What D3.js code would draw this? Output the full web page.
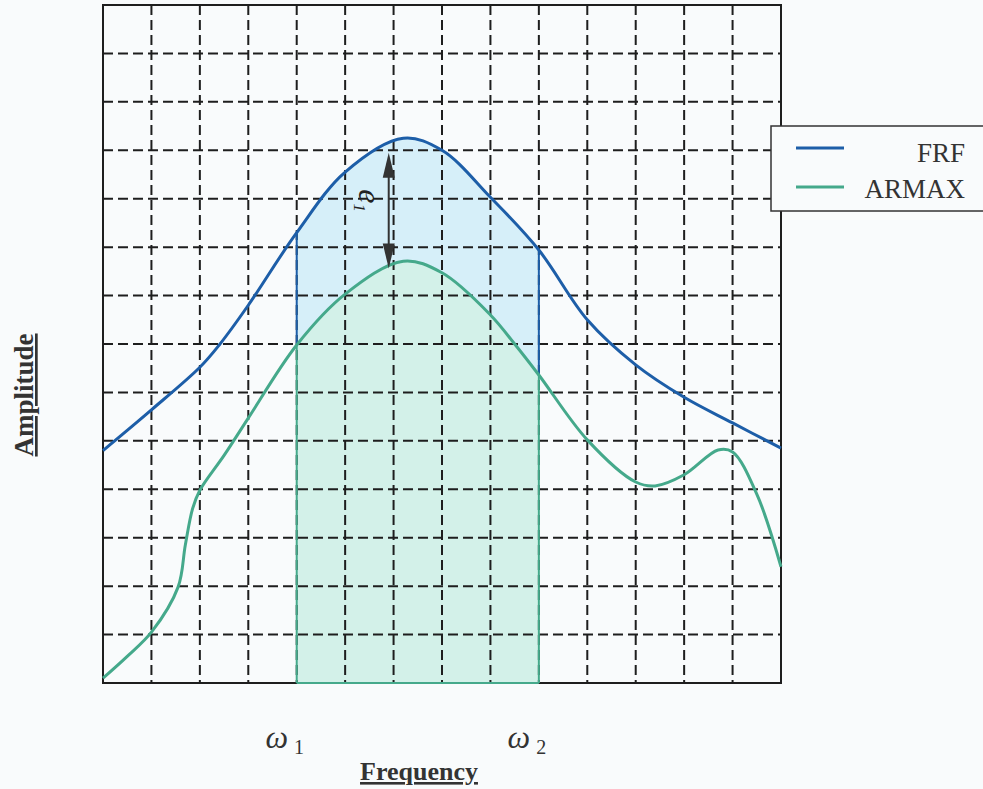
<!DOCTYPE html>
<html>
<head>
<meta charset="utf-8">
<script src="https://cdn.jsdelivr.net/npm/d3@7"></script>
<style>
  body { margin: 0; background: #f9fbfc; }
  text { font-family: "Liberation Serif", "DejaVu Serif", serif; }
</style>
</head>
<body>
<svg id="chart"></svg>
<script>
// FRF vs ARMAX amplitude sketch

const GRID_TICKS = d3.range(0, 15);
const BAND = [4, 9];               // omega 1, omega 2
const BAND_LABELS = ["1", "2"];
const E_AT = 5.9;                  // where the e1 arrow sits

const frfX = [0, 1, 2, 2.4, 3, 4, 5, 6.2, 7, 8, 9, 10, 11, 12, 13, 14];
const frfY = [4.8, 5.64, 6.52, 6.98, 7.8, 9.3, 10.55, 11.25, 11.0, 10.03, 8.94, 7.5, 6.57, 5.9, 5.37, 4.85];

const armaxX = [0, 0.5, 1, 1.55, 1.7, 1.85, 2, 2.5, 3, 4, 5, 6.2, 7, 8, 8.5, 9, 10, 11, 11.4, 12, 12.7, 13, 13.5, 14];
const armaxY = [0.1, 0.55, 1.05, 1.98, 2.85, 3.6, 3.98, 4.7, 5.47, 6.98, 8.03, 8.71, 8.47, 7.6, 7.0, 6.36, 5.02, 4.15, 4.07, 4.3, 4.81, 4.77, 3.9, 2.4];

const SERIES = ["FRF", "ARMAX"];
const COLORS = ["#1d5ea8", "#45a98b"];
const FILLS = ["#d6eff9", "#d3f1e9"];

const WIDTH = 983;
const HEIGHT = 789;
const PLOT = { left: 103, right: 781, top: 5, bottom: 683 };

const svg = d3.select('#chart')
  .attr('width', WIDTH)
  .attr('height', HEIGHT);

const xScale = d3.scaleLinear().domain([0, 14]).range([PLOT.left, PLOT.right]);
const yScale = d3.scaleLinear().domain([0, 14]).range([PLOT.bottom, PLOT.top]);

const frf = frfX.map((x, i) => [x, frfY[i]]);
const armax = armaxX.map((x, i) => [x, armaxY[i]]);
const frfAt = d3.scaleLinear().domain(frfX).range(frfY);
const armaxAt = d3.scaleLinear().domain(armaxX).range(armaxY);

const curve = d3.curveCatmullRom.alpha(0.5);

const line = d3.line()
  .x(d => xScale(d[0]))
  .y(d => yScale(d[1]))
  .curve(curve);

const area = d3.area()
  .x(d => xScale(d[0]))
  .y0(yScale(0))
  .y1(d => yScale(d[1]))
  .curve(curve);

// shaded band between omega1 and omega2
svg.append('clipPath').attr('id', 'band')
  .append('rect')
  .attr('x', xScale(BAND[0]))
  .attr('y', PLOT.top)
  .attr('width', xScale(BAND[1]) - xScale(BAND[0]))
  .attr('height', PLOT.bottom - PLOT.top);

const band = svg.append('g').attr('clip-path', 'url(#band)');
band.append('path').datum(frf).attr('d', area).attr('fill', FILLS[0]);
band.append('path').datum(armax).attr('d', area).attr('fill', FILLS[1]);

// dashed grid
const grid = svg.append('g')
  .attr('stroke', '#1e1e1e')
  .attr('stroke-width', 2)
  .attr('stroke-dasharray', '10,5');

grid.selectAll('.vgrid')
  .data(GRID_TICKS.slice(1, -1))
  .enter()
  .append('line')
  .attr('x1', d => xScale(d)).attr('x2', d => xScale(d))
  .attr('y1', PLOT.top).attr('y2', PLOT.bottom);

grid.selectAll('.hgrid')
  .data(GRID_TICKS.slice(1, -1))
  .enter()
  .append('line')
  .attr('y1', d => yScale(d)).attr('y2', d => yScale(d))
  .attr('x1', PLOT.left).attr('x2', PLOT.right);

// frame
svg.append('rect')
  .attr('x', PLOT.left).attr('y', PLOT.top)
  .attr('width', PLOT.right - PLOT.left)
  .attr('height', PLOT.bottom - PLOT.top)
  .attr('fill', 'none')
  .attr('stroke', '#1e1e1e')
  .attr('stroke-width', 2);

// band edges
BAND.forEach(b => {
  svg.append('line')
    .attr('x1', xScale(b)).attr('x2', xScale(b))
    .attr('y1', yScale(frfAt(b))).attr('y2', yScale(armaxAt(b)))
    .attr('stroke', COLORS[0]).attr('stroke-width', 2);
  svg.append('line')
    .attr('x1', xScale(b)).attr('x2', xScale(b))
    .attr('y1', yScale(armaxAt(b))).attr('y2', yScale(0))
    .attr('stroke', COLORS[1]).attr('stroke-width', 2);
});
svg.append('line')
  .attr('x1', xScale(BAND[0])).attr('x2', xScale(BAND[1]))
  .attr('y1', yScale(0)).attr('y2', yScale(0))
  .attr('stroke', COLORS[1]).attr('stroke-width', 2);

// curves
svg.append('path').datum(frf).attr('d', line)
  .attr('fill', 'none').attr('stroke', COLORS[0]).attr('stroke-width', 3);
svg.append('path').datum(armax).attr('d', line)
  .attr('fill', 'none').attr('stroke', COLORS[1]).attr('stroke-width', 3);

// e1 double arrow
const ex = xScale(E_AT);
const eTop = yScale(frfAt(E_AT)) + 6;
const eBot = yScale(armaxAt(E_AT)) - 1;
svg.append('line')
  .attr('x1', ex).attr('x2', ex)
  .attr('y1', eTop + 15).attr('y2', eBot - 15)
  .attr('stroke', '#333').attr('stroke-width', 2);
svg.append('path')
  .attr('d', `M${ex},${eTop} L${ex - 6},${eTop + 25} L${ex + 6},${eTop + 25} Z`)
  .attr('fill', '#333');
svg.append('path')
  .attr('d', `M${ex},${eBot} L${ex - 6},${eBot - 25} L${ex + 6},${eBot - 25} Z`)
  .attr('fill', '#333');

const eLabel = svg.append('text')
  .attr('transform', `translate(${ex - 30},${(eTop + eBot) / 2 - 10}) rotate(90)`)
  .attr('text-anchor', 'middle')
  .attr('font-size', 32)
  .attr('font-style', 'italic')
  .attr('fill', '#222');
eLabel.append('tspan').text('e');
eLabel.append('tspan').attr('font-size', 17).attr('dy', 5).text('1');

// omega labels
BAND.forEach((b, i) => {
  const t = svg.append('text')
    .attr('x', xScale(b) - 12)
    .attr('y', 748)
    .attr('text-anchor', 'middle')
    .attr('font-size', 32)
    .attr('fill', '#333');
  t.append('tspan').attr('font-style', 'italic').text('ω');
  t.append('tspan').attr('font-size', 20).attr('dx', 6).attr('dy', 6).text(BAND_LABELS[i]);
});

// axis titles
svg.append('text')
  .attr('x', 419).attr('y', 780)
  .attr('text-anchor', 'middle')
  .attr('font-size', 26)
  .attr('font-weight', 'bold')
  .attr('text-decoration', 'underline')
  .attr('fill', '#333')
  .text('Frequency');

svg.append('text')
  .attr('transform', 'translate(33,395) rotate(-90)')
  .attr('text-anchor', 'middle')
  .attr('font-size', 27)
  .attr('font-weight', 'bold')
  .attr('text-decoration', 'underline')
  .attr('fill', '#333')
  .text('Amplitude');

// legend
const legend = svg.append('g').attr('transform', 'translate(771,126)');
legend.append('rect')
  .attr('width', 240).attr('height', 85)
  .attr('fill', '#f9fbfc')
  .attr('stroke', '#333').attr('stroke-width', 1.5);

legend.selectAll('.key')
  .data(SERIES)
  .enter()
  .append('line')
  .attr('x1', 25).attr('x2', 73)
  .attr('y1', (d, i) => 22 + i * 39).attr('y2', (d, i) => 22 + i * 39)
  .attr('stroke', (d, i) => COLORS[i])
  .attr('stroke-width', 3);

legend.selectAll('.label')
  .data(SERIES)
  .enter()
  .append('text')
  .attr('x', 194)
  .attr('y', (d, i) => 36 + i * 36)
  .attr('text-anchor', 'end')
  .attr('font-size', 27)
  .attr('fill', '#333')
  .text(d => d);
</script>
</body>
</html>
